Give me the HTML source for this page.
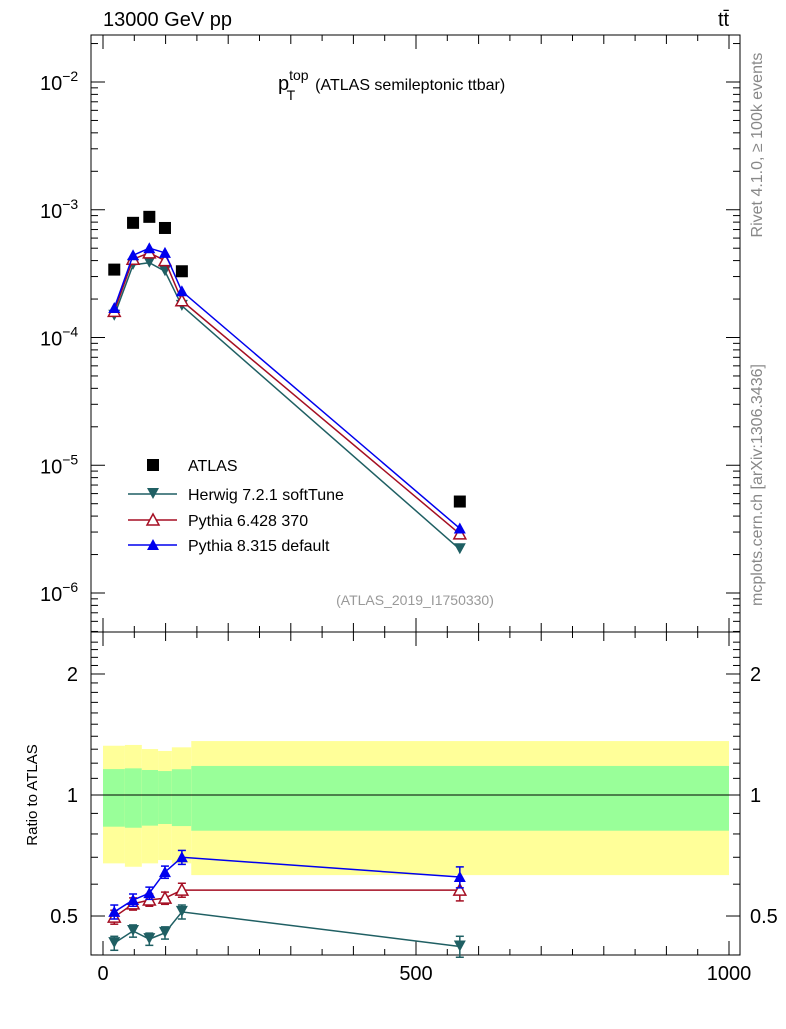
<!DOCTYPE html>
<html><head><meta charset="utf-8"><style>
body{margin:0;background:#fff}
svg{font-family:"Liberation Sans",sans-serif}
</style></head><body>
<svg id="c" width="786" height="1024" xmlns="http://www.w3.org/2000/svg"></svg>
<script>
const binEdges=[0,35,62,88,110,141,1000];
const xVals=[18,48,74,99,126,570];
const atlas=[3.4e-4,7.9e-4,8.8e-4,7.2e-4,3.3e-4,5.2e-6];
const herwig=[1.48e-4,3.7e-4,3.85e-4,3.3e-4,1.77e-4,2.2e-6];
const py6=[1.6e-4,4.1e-4,4.6e-4,4.0e-4,1.94e-4,2.9e-6];
const py8=[1.7e-4,4.4e-4,5.0e-4,4.6e-4,2.3e-4,3.2e-6];
const rHerwig=[0.428,0.459,0.438,0.454,0.512,0.42];
const rPy6=[0.497,0.536,0.548,0.554,0.58,0.58];
const rPy8=[0.512,0.548,0.57,0.643,0.70,0.625];
const rErr=[0.04,0.035,0.035,0.035,0.04,0.06];
const yelHi=[1.326,1.332,1.301,1.287,1.314,1.362];
const yelLo=[0.676,0.663,0.676,0.689,0.676,0.632];
const grnHi=[1.16,1.165,1.154,1.147,1.159,1.181];
const grnLo=[0.834,0.829,0.839,0.847,0.837,0.815];
const xTicks=[0,500,1000];
const mainDecades=[-6,-5,-4,-3,-2];
const ratioTicks=[0.5,1,2];

const svg=document.getElementById('c');
const NS='http://www.w3.org/2000/svg';
function mk(t,a,p){const e=document.createElementNS(NS,t);for(const k in a)e.setAttribute(k,a[k]);(p||svg).appendChild(e);return e;}
const L=91,R=740,T=35,MB=632,RB=955;
const X=v=>103+v*0.626;
const Y=v=>82-(Math.log10(v)+2)*127.75;
const YR=v=>795-Math.log10(v)*402;

for(let i=0;i<6;i++){
  const x0=X(binEdges[i]),x1=X(binEdges[i+1]);
  let e=mk('rect',{x:x0,y:YR(yelHi[i]),width:x1-x0,height:YR(yelLo[i])-YR(yelHi[i]),fill:'#ffff99'});
  
  e=mk('rect',{x:x0,y:YR(grnHi[i]),width:x1-x0,height:YR(grnLo[i])-YR(grnHi[i]),fill:'#99ff99'});
  
}
let ln=mk('line',{x1:L,x2:R,y1:YR(1),y2:YR(1),stroke:'#000','stroke-width':1});


for(const [y0,y1,n] of [[T,MB,'main-frame'],[MB,RB,'ratio-frame']]){
  const f=mk('rect',{x:L,y:y0,width:R-L,height:y1-y0,fill:'none',stroke:'#000','stroke-width':1});
  
}
for(let v=0;v<=1000;v+=50){
  const len=v%500===0?14:(v%100===0?9:6);
  for(const yb of [MB,RB]){mk('line',{x1:X(v),x2:X(v),y1:yb,y2:yb-len,stroke:'#000'});}
  for(const yt of [T,MB]){mk('line',{x1:X(v),x2:X(v),y1:yt,y2:yt+len,stroke:'#000'});}
}
xTicks.forEach(v=>{const t=mk('text',{x:X(v),y:980,'font-size':20,'text-anchor':'middle'});t.textContent=v;
});
for(let d=-7;d<=-2;d++){
  for(let m=1;m<10;m++){const v=m*Math.pow(10,d);const y=Y(v);if(y<T||y>MB)continue;
    const len=m===1?14:7;
    mk('line',{x1:L,x2:L+len,y1:y,y2:y,stroke:'#000'});mk('line',{x1:R,x2:R-len,y1:y,y2:y,stroke:'#000'});}
}
mainDecades.forEach(d=>{const t=mk('text',{x:40,y:Y(Math.pow(10,d))+8,'font-size':20});
t.textContent='10';const s=mk('tspan',{dy:-9,'font-size':14},t);s.textContent=String(d).replace('-','−');
});
for(let v=0.4;v<=2.5;v+=0.1){const y=YR(v);if(y<MB||y>RB)continue;
  const maj=Math.abs(v-0.5)<1e-6||Math.abs(v-1)<1e-6||Math.abs(v-2)<1e-6;const len=maj?14:7;
  mk('line',{x1:L,x2:L+len,y1:y,y2:y,stroke:'#000'});mk('line',{x1:R,x2:R-len,y1:y,y2:y,stroke:'#000'});}
ratioTicks.forEach(v=>{for(const [x,a] of [[78,'end'],[750,'start']]){const t=mk('text',{x:x,y:YR(v)+7,'font-size':20,'text-anchor':a});t.textContent=v;
}});

function marker(kind,x,y,color,g){
  if(kind==='sq')mk('rect',{x:x-6,y:y-6,width:12,height:12,fill:'#000'},g);
  else if(kind==='down')mk('polygon',{points:`${x-6},${y-6} ${x+6},${y-6} ${x},${y+5}`,fill:color},g);
  else if(kind==='upopen')mk('polygon',{points:`${x-6},${y+5} ${x+6},${y+5} ${x},${y-6}`,fill:'#fff',stroke:color,'stroke-width':1.5},g);
  else mk('polygon',{points:`${x-6},${y+5} ${x+6},${y+5} ${x},${y-6}`,fill:color},g);
}
const series=[['herwig',herwig,rHerwig,'#1f5f63','down'],['pythia6',py6,rPy6,'#a50f23','upopen'],['pythia8',py8,rPy8,'#0000ee','up']];
series.forEach(([n,main,rat,col,k])=>{
  let g=mk('g',{});
  mk('polyline',{points:xVals.map((x,i)=>X(x)+','+Y(main[i])).join(' '),fill:'none',stroke:col,'stroke-width':1.5},g);
  xVals.forEach((x,i)=>marker(k,X(x),Y(main[i]),col,g));
  g=mk('g',{});
  mk('polyline',{points:xVals.map((x,i)=>X(x)+','+YR(rat[i])).join(' '),fill:'none',stroke:col,'stroke-width':1.5},g);
  xVals.forEach((x,i)=>{const y1=YR(rat[i]*(1+rErr[i])),y2=YR(rat[i]*(1-rErr[i]));
    mk('line',{x1:X(x),x2:X(x),y1:y1,y2:y2,stroke:col,'stroke-width':1.5},g);
    mk('line',{x1:X(x)-4,x2:X(x)+4,y1:y1,y2:y1,stroke:col,'stroke-width':1.5},g);
    mk('line',{x1:X(x)-4,x2:X(x)+4,y1:y2,y2:y2,stroke:col,'stroke-width':1.5},g);
    marker(k,X(x),YR(rat[i]),col,g);});
});
let ga=mk('g',{});
xVals.forEach((x,i)=>marker('sq',X(x),Y(atlas[i]),'#000',ga));

const leg=[['ATLAS','sq','#000',465],['Herwig 7.2.1 softTune','down','#1f5f63',494],['Pythia 6.428 370','upopen','#a50f23',520],['Pythia 8.315 default','up','#0000ee',545]];
leg.forEach(([txt,k,col,y])=>{const g=mk('g',{});
  if(k!=='sq')mk('line',{x1:128,x2:177,y1:y,y2:y,stroke:col,'stroke-width':1.5},g);
  marker(k,153,y,col,g);const t=mk('text',{x:188,y:y+6,'font-size':16},g);t.textContent=txt;});

function txt(s,a,name){const t=mk('text',a);t.textContent=s;return t;}
txt('13000 GeV pp',{x:103,y:26,'font-size':20},'header-left');
txt('tt̄',{x:718,y:26,'font-size':20},'header-right');
const ti=txt('p',{x:278,y:90,'font-size':20},'plot-title');
let s=mk('tspan',{dy:-10,'font-size':14},ti);s.textContent='top';
s=mk('tspan',{dx:-22,dy:20,'font-size':14},ti);s.textContent='T';
s=mk('tspan',{dx:20,dy:-10,'font-size':16},ti);s.textContent='(ATLAS semileptonic ttbar)';
txt('(ATLAS_2019_I1750330)',{x:415,y:605,'font-size':14,fill:'#999','text-anchor':'middle'},'analysis-id');
txt('Ratio to ATLAS',{x:37,y:795,'font-size':15,'text-anchor':'middle',transform:'rotate(-90 37 795)'},'ratio-axis-title');
txt('Rivet 4.1.0, ≥ 100k events',{x:762,y:145,'font-size':16,fill:'#888','text-anchor':'middle',transform:'rotate(-90 762 145)'},'side-rivet');
txt('mcplots.cern.ch [arXiv:1306.3436]',{x:762,y:485,'font-size':16,fill:'#888','text-anchor':'middle',transform:'rotate(-90 762 485)'},'side-mcplots');
</script>
</body></html>
